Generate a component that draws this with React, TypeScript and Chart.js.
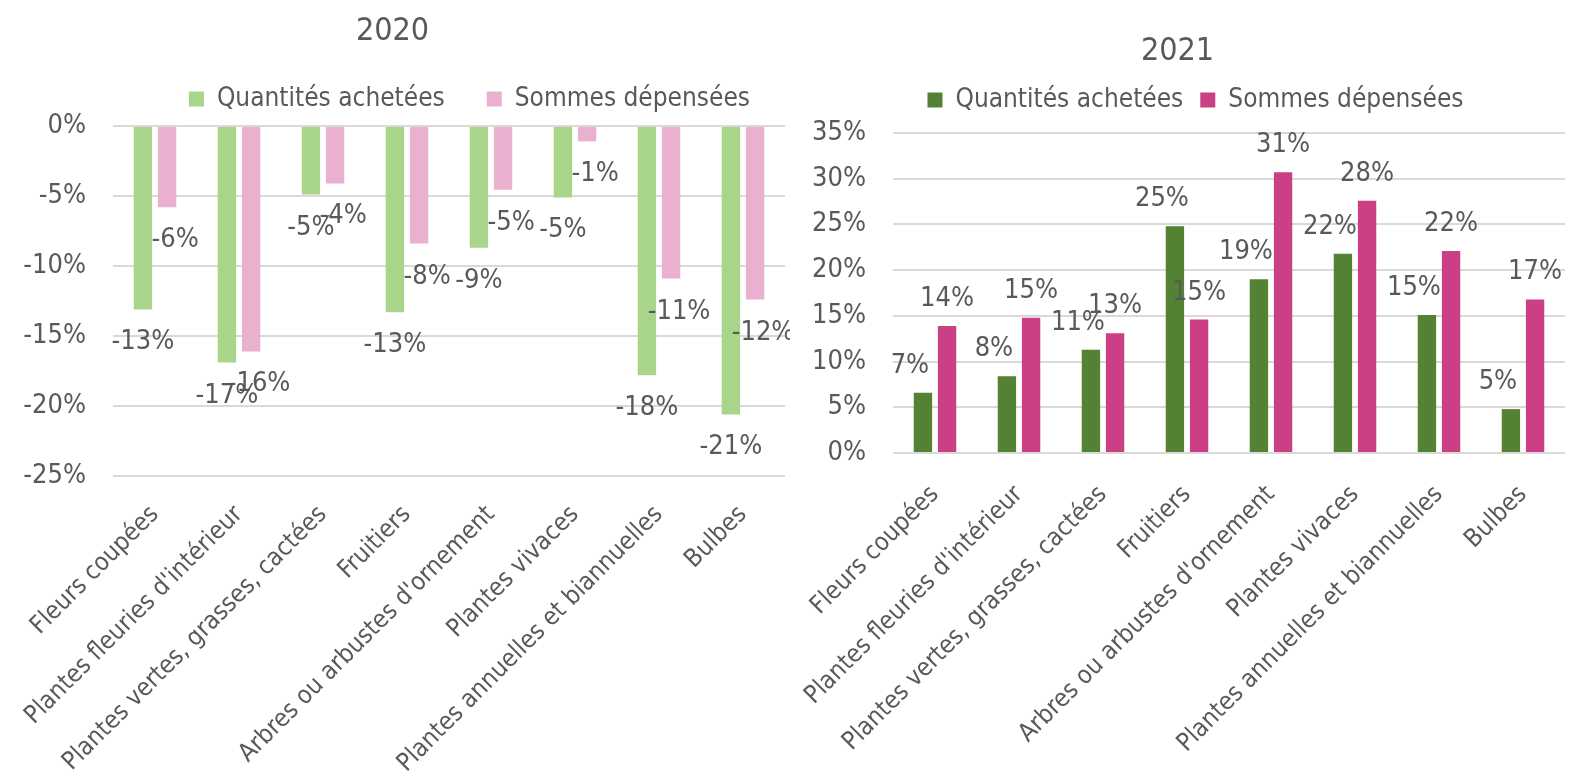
import React, { useEffect, useRef } from "react";
import { Chart, registerables } from "chart.js";

Chart.register(...registerables);

const categories = [
  "Fleurs coupées",
  "Plantes fleuries d'intérieur",
  "Plantes vertes, grasses, cactées",
  "Fruitiers",
  "Arbres ou arbustes d'ornement",
  "Plantes vivaces",
  "Plantes annuelles et biannuelles",
  "Bulbes",
];
const seriesNames = ["Quantités achetées", "Sommes dépensées"];

const qty2020 = [-13.1, -16.9, -4.9, -13.3, -8.7, -5.1, -17.8, -20.6];
const spend2020 = [-5.8, -16.1, -4.1, -8.4, -4.55, -1.1, -10.9, -12.4];
const qty2021 = [6.6, 8.4, 11.3, 24.8, 19.0, 21.8, 15.1, 4.8];
const spend2021 = [13.9, 14.8, 13.1, 14.6, 30.7, 27.6, 22.1, 16.8];

const ticks2020 = [0, -5, -10, -15, -20, -25];
const ticks2021 = [0, 5, 10, 15, 20, 25, 30, 35];

const FONT = "'DejaVu Sans Condensed', 'DejaVu Sans', sans-serif";
const TEXT = "#595959";

const dataLabelPlugin = {
  id: "dataLabelsCustom",
  afterDatasetsDraw(chart: any, _args: any, opts: any) {
    const ctx = chart.ctx;
    ctx.save();
    ctx.font = `27px ${FONT}`;
    ctx.fillStyle = TEXT;
    ctx.textAlign = "center";
    ctx.textBaseline = "middle";
    chart.data.datasets.forEach((ds: any, di: number) => {
      const meta = chart.getDatasetMeta(di);
      const dx = (opts.dx && opts.dx[di]) || 0;
      meta.data.forEach((bar: any, i: number) => {
        const v = ds.data[i];
        const dy = v < 0 ? opts.dyNeg : -opts.dyPos;
        ctx.fillText(Math.round(v) + "%", bar.x + dx, bar.y + dy);
      });
    });
    ctx.restore();
  },
};

const shiftPlugin = {
  id: "boxShift",
  afterLayout(chart: any, _args: any, opts: any) {
    const lg = chart.legend;
    if (lg) {
      lg.top += opts.legendDy || 0;
      lg.bottom += opts.legendDy || 0;
      lg.left += opts.legendDx || 0;
      lg.right += opts.legendDx || 0;
    }
    const tb = chart.titleBlock;
    if (tb) {
      tb.top += opts.titleDy || 0;
      tb.bottom += opts.titleDy || 0;
    }
  },
};

function makeConfig(p: any) {
  return {
    type: "bar",
    data: {
      labels: categories,
      datasets: [
        { label: seriesNames[0], data: p.a, backgroundColor: p.colors[0] },
        { label: seriesNames[1], data: p.b, backgroundColor: p.colors[1] },
      ],
    },
    options: {
      responsive: false,
      animation: false,
      devicePixelRatio: 1,
      layout: { padding: { top: p.padTop, right: p.padRight, left: 0, bottom: 0 } },
      datasets: { bar: { categoryPercentage: 0.575, barPercentage: 0.76 } },
      plugins: {
        title: {
          display: true,
          text: p.title,
          color: TEXT,
          font: { family: FONT, size: 32, weight: "normal", lineHeight: 1.2 },
          padding: { top: 0, bottom: 0 },
        },
        legend: {
          display: true,
          position: "top",
          align: p.legendAlign,
          labels: {
            color: TEXT,
            font: { family: FONT, size: 26 },
            boxWidth: 15,
            boxHeight: 15,
            padding: p.legendPad,
          },
        },
        tooltip: { enabled: false },
        dataLabelsCustom: p.labels,
        boxShift: p.shift,
      },
      scales: {
        x: {
          grid: { display: false },
          border: { display: false },
          ticks: {
            color: TEXT,
            font: { family: FONT, size: 25 },
            minRotation: 45,
            maxRotation: 45,
            autoSkip: false,
            padding: p.xPad,
          },
          afterFit(scale: any) {
            scale.height = p.xHeight;
            scale.paddingLeft = 0;
            scale.paddingRight = 0;
          },
        },
        y: {
          min: p.min,
          max: p.max,
          grid: { color: "#d9d9d9", lineWidth: 2, drawTicks: false },
          border: { display: false },
          afterBuildTicks(scale: any) {
            scale.ticks = p.ticks.map((v: number) => ({ value: v }));
          },
          ticks: {
            color: TEXT,
            font: { family: FONT, size: 27 },
            padding: 27,
            callback: (v: any) => v + "%",
          },
          afterFit(scale: any) {
            scale.width = p.yWidth;
          },
        },
      },
    },
    plugins: [dataLabelPlugin, shiftPlugin],
  };
}

function BarChart(props: any) {
  const ref = useRef<HTMLCanvasElement>(null);
  useEffect(() => {
    const chart = new Chart(ref.current as any, makeConfig(props.p) as any);
    return () => chart.destroy();
  }, []);
  return <canvas ref={ref} width={props.w} height={780} style={{ display: "block" }} />;
}

const left = {
  title: "2020",
  a: qty2020,
  b: spend2020,
  colors: ["#a9d58b", "#e9b0cf"],
  min: -25,
  max: 0,
  ticks: ticks2020,
  padTop: 9.6,
  padRight: 5,
  legendAlign: "end",
  legendPad: 42,
  xHeight: 304,
  xPad: 16,
  yWidth: 113,
  labels: { dyNeg: 33, dyPos: 27, dx: [0, 8] },
  shift: { titleDy: 3, legendDy: -4, legendDx: 7 },
};

const right = {
  title: "2021",
  a: qty2021,
  b: spend2021,
  colors: ["#548235", "#cb3f84"],
  min: 0,
  max: 35,
  ticks: ticks2021,
  padTop: 41.6,
  padRight: 4,
  legendAlign: "center",
  legendPad: 17,
  xHeight: 327,
  xPad: 19,
  yWidth: 103,
  labels: { dyNeg: 33, dyPos: 27, dx: [-13, 0] },
  shift: { titleDy: -9, legendDy: -10, legendDx: 18 },
};

export default function App() {
  return (
    <div style={{ position: "absolute", left: 0, top: 0, width: 1569, height: 780, background: "#fff" }}>
      <div style={{ position: "absolute", left: 0, top: 0 }}>
        <BarChart p={left} w={790} />
      </div>
      <div style={{ position: "absolute", left: 790, top: 0 }}>
        <BarChart p={right} w={779} />
      </div>
    </div>
  );
}
